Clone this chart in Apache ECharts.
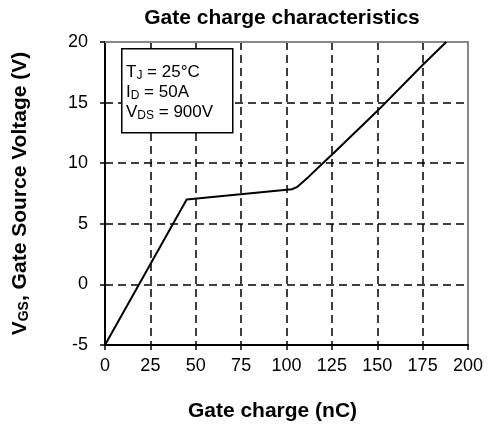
<!DOCTYPE html>
<html>
<head>
<meta charset="utf-8">
<script src="https://cdn.jsdelivr.net/npm/echarts@6/dist/echarts.min.js"></script>
<style>
  html, body { margin: 0; padding: 0; background: #fff; }
  #main { width: 491px; height: 432px; }
</style>
</head>
<body>
<div id="main"></div>
<script>
var gateCharge = [0, 45, 103, 106, 112, 120, 125, 150, 175, 188];
var vgs = [-5, 7, 7.85, 8.05, 8.85, 10, 10.7, 14.3, 18.1, 20];
var xTicks = [0, 25, 50, 75, 100, 125, 150, 175, 200];
var yTicks = [-5, 0, 5, 10, 15, 20];

var dom = document.getElementById('main');
var myChart = echarts.init(dom, null, { renderer: 'canvas' });

var font = 'Liberation Sans, Arial, sans-serif';
var points = gateCharge.map(function (q, i) { return [q, vgs[i]]; });

var option = {
    backgroundColor: '#ffffff',
    animation: false,
    title: {
        text: 'Gate charge characteristics',
        left: 277,
        top: 3,
        textAlign: 'center',
        textStyle: { fontFamily: font, fontSize: 21, fontWeight: 'bold', color: '#000' }
    },
    grid: { left: 105, right: 23, top: 42, bottom: 87 },
    xAxis: [{
        type: 'value',
        min: xTicks[0],
        max: xTicks[xTicks.length - 1],
        interval: 25,
        name: 'Gate charge (nC)',
        nameLocation: 'middle',
        nameGap: 56,
        nameTextStyle: { fontFamily: font, fontSize: 21, fontWeight: 'bold', color: '#000', padding: [0, 28, 0, 0] },
        axisLine: { show: true, onZero: false, lineStyle: { color: '#000', width: 2 } },
        axisTick: { show: true, length: 5, lineStyle: { color: '#000', width: 1.5 } },
        axisLabel: { fontFamily: font, fontSize: 18, color: '#000', margin: 12 },
        splitLine: { show: true, lineStyle: { color: '#000', width: 1.5, type: [8, 5] } }
    }, {
        type: 'value',
        position: 'top',
        min: xTicks[0],
        max: xTicks[xTicks.length - 1],
        interval: 25,
        axisLine: { show: true, onZero: false, lineStyle: { color: '#888', width: 2 } },
        axisTick: { show: false },
        axisLabel: { show: false },
        splitLine: { show: false }
    }],
    yAxis: [{
        type: 'value',
        min: yTicks[0],
        max: yTicks[yTicks.length - 1],
        interval: 5,
        name: 'V{sub|GS}, Gate Source Voltage (V)',
        nameLocation: 'middle',
        nameGap: 74,
        nameTextStyle: {
            fontFamily: font, fontSize: 21, fontWeight: 'bold', color: '#000',
            rich: {
                sub: { fontFamily: font, fontSize: 14, fontWeight: 'bold', color: '#000', verticalAlign: 'bottom', padding: [7, 0, 0, 0] }
            }
        },
        axisLine: { show: true, onZero: false, lineStyle: { color: '#000', width: 2 } },
        axisTick: { show: true, length: 5, lineStyle: { color: '#000', width: 1.5 } },
        axisLabel: { fontFamily: font, fontSize: 18, color: '#000', margin: 17 },
        splitLine: { show: true, lineStyle: { color: '#000', width: 1.5, type: [8, 5] } }
    }, {
        type: 'value',
        position: 'right',
        min: yTicks[0],
        max: yTicks[yTicks.length - 1],
        interval: 5,
        axisLine: { show: true, onZero: false, lineStyle: { color: '#888', width: 2 } },
        axisTick: { show: false },
        axisLabel: { show: false },
        splitLine: { show: false }
    }],
    graphic: [{
        type: 'rect',
        left: 121,
        top: 48,
        z: 100,
        shape: { x: 0, y: 0, width: 111, height: 84 },
        style: { fill: '#fff', stroke: '#000', lineWidth: 1.5 }
    }, {
        type: 'text',
        left: 126,
        top: 62,
        z: 101,
        style: {
            text: 'T{s|J} = 25°C\nI{s|D} = 50A\nV{s|DS} = 900V',
            fontFamily: font,
            fontSize: 17,
            lineHeight: 20,
            fill: '#000',
            rich: {
                s: { fontFamily: font, fontSize: 12, fill: '#000', verticalAlign: 'bottom', padding: [5, 0, 0, 0] }
            }
        }
    }],
    series: [{
        type: 'line',
        data: points,
        showSymbol: false,
        smooth: false,
        lineStyle: { color: '#000', width: 2 },
        z: 10
    }]
};

myChart.setOption(option);
window.addEventListener('resize', myChart.resize);
</script>
</body>
</html>
